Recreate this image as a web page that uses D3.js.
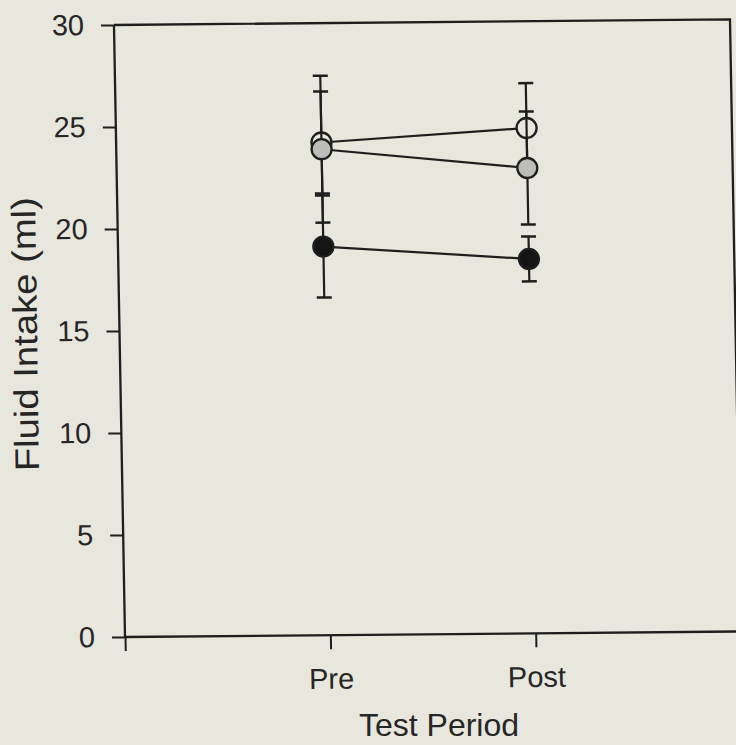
<!DOCTYPE html>
<html>
<head>
<meta charset="utf-8">
<script src="https://cdn.jsdelivr.net/npm/d3@7/dist/d3.min.js"></script>
<style>
  html, body { margin: 0; padding: 0; background: #e8e7dd; }
  svg { display: block; }
  text { font-family: "Liberation Sans", Arial, sans-serif; fill: #262626; }
</style>
</head>
<body>
<svg id="chart" width="736" height="745"></svg>
<script>
// ---- data ----
const categories = ["Pre", "Post"];
const yTicks = [0, 5, 10, 15, 20, 25, 30];
const seriesNames = ["open", "gray", "black"];
const openMean  = [24.15, 24.77];
const openErr   = [2.5, 2.2];
const grayMean  = [23.82, 22.81];
const grayErr   = [3.6, 2.77];
const blackMean = [19.05, 18.35];
const blackErr  = [2.5, 1.1];

const series = [
  { name: seriesNames[0], mean: openMean,  err: openErr,  fill: "#e8e7dd" },
  { name: seriesNames[1], mean: grayMean,  err: grayErr,  fill: "#bdbdb7" },
  { name: seriesNames[2], mean: blackMean, err: blackErr, fill: "#141414" }
];

const W = 616, H = 612;
const ink = "#1e1e1e";
const svg = d3.select("#chart");

// scanned page is slightly skewed
const g = svg.append("g")
  .attr("transform", "translate(125,637) matrix(1,-0.009,0.018,1,0,0)");

const x = d3.scaleLinear().domain([0, 3]).range([0, W]);
const y = d3.scaleLinear().domain([0, 30]).range([0, -H]);

// frame (top & right)
g.append("path")
  .attr("d", `M0,${-H} H${W} V0`)
  .attr("fill", "none").attr("stroke", ink).attr("stroke-width", 2.3);

// y axis
const yAxis = g.append("g")
  .call(d3.axisLeft(y).tickValues(yTicks).tickSize(13).tickPadding(17).tickFormat(d3.format("d")));
// x axis
const xAxis = g.append("g")
  .call(d3.axisBottom(x).tickValues([0, 1, 2]).tickSize(14).tickPadding(19)
    .tickFormat(i => i === 0 ? "" : categories[i - 1]));

[yAxis, xAxis].forEach(a => {
  a.select(".domain").attr("stroke", ink).attr("stroke-width", 2.3);
  a.selectAll(".tick line").attr("stroke", ink).attr("stroke-width", 2);
  a.selectAll(".tick text").attr("fill", "#262626")
    .style("font-family", '"Liberation Sans", Arial, sans-serif')
    .style("font-size", "29px");
});
xAxis.select(".domain").attr("d", `M0,0H${W + 20}`);
yAxis.select(".domain").attr("d", `M0,${-H}V0`);

// series
const capW = 7.5, r = 10;
series.forEach(s => {
  const sg = g.append("g");
  const pts = s.mean.map((m, i) => ({ cx: x(i + 1), m, e: s.err[i] }));
  sg.append("path")
    .attr("d", d3.line().x(p => p.cx).y(p => y(p.m))(pts))
    .attr("fill", "none").attr("stroke", ink).attr("stroke-width", 2.2);
  pts.forEach(p => {
    const yt = y(p.m + p.e), yb = y(p.m - p.e);
    sg.append("line").attr("x1", p.cx).attr("x2", p.cx).attr("y1", yt).attr("y2", yb)
      .attr("stroke", ink).attr("stroke-width", 2.2);
    [yt, yb].forEach(yy => sg.append("line")
      .attr("x1", p.cx - capW).attr("x2", p.cx + capW).attr("y1", yy).attr("y2", yy)
      .attr("stroke", ink).attr("stroke-width", 2.5));
  });
  sg.selectAll("circle").data(pts).enter().append("circle")
    .attr("cx", p => p.cx).attr("cy", p => y(p.m)).attr("r", r)
    .attr("fill", s.fill).attr("stroke", ink).attr("stroke-width", 2.3);
});

// axis titles
svg.append("text")
  .attr("transform", "translate(37,334) rotate(-90.8)")
  .attr("text-anchor", "middle")
  .attr("textLength", 274)
  .attr("lengthAdjust", "spacingAndGlyphs")
  .style("font-size", "34px")
  .text("Fluid Intake (ml)");

svg.append("text")
  .attr("x", 439).attr("y", 736)
  .attr("text-anchor", "middle")
  .style("font-size", "32px")
  .text("Test Period");
</script>
</body>
</html>
